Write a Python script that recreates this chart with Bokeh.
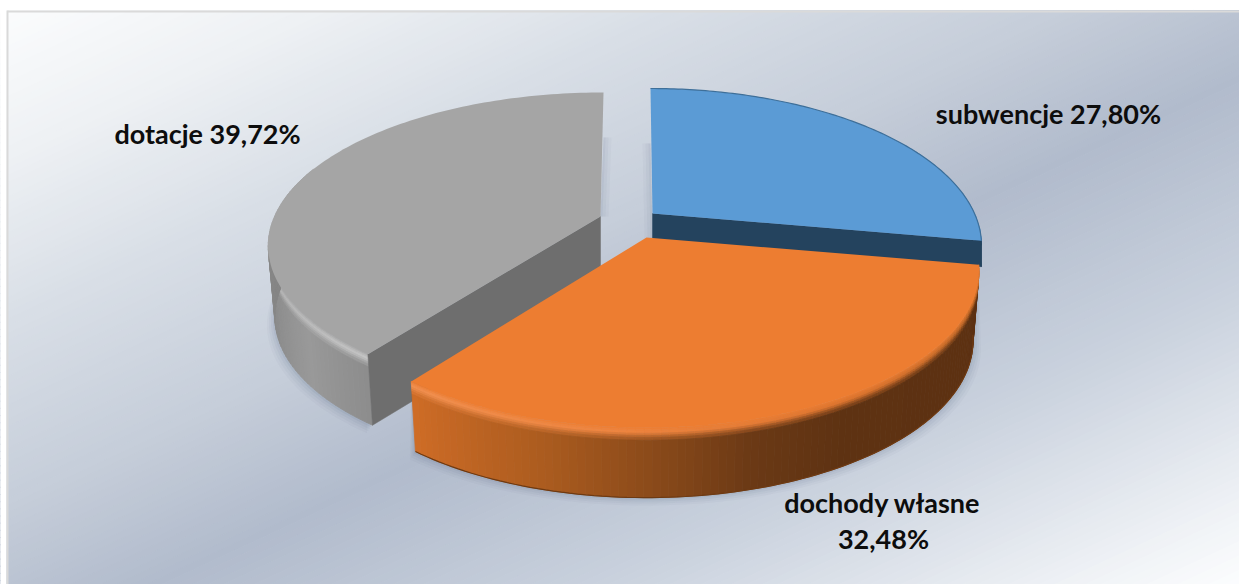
import numpy as np
from bokeh.plotting import figure
from bokeh.models import Range1d
from bokeh.core.properties import value
from bokeh.embed import file_html
from bokeh.resources import INLINE

# ---- chart data ----
categories = ["subwencje", "dochody własne", "dotacje"]
shares = [27.80, 32.48, 39.72]
label_lines = [["subwencje 27,80%"], ["dochody własne", "32,48%"], ["dotacje 39,72%"]]

# ---- styling / layout ----
W, H = 1239, 584
face_cols = ["#5B9BD5", "#ED7D31", "#A5A5A5"]
wall_cols = ["#24435E", "#7A3E12", "#6E6E6E"]
apex = [(652, 213), (646, 237), (600, 216)]
radius_x = [322, 325, 326]
radius_y = [150, 150, 147]
persp = [0.2, 0.211, 0.185]
lean = [-2, 0, 3]
depth = [26, 70, 71]
shrink = [1.0, 0.982, 0.98]
label_pos = [[(1048, 114)], [(882, 503), (883, 539)], [(207, 134)]]


def rgb(h):
    return np.array([int(h[i:i + 2], 16) for i in (1, 3, 5)], float)


def hexc(c):
    return "#%02x%02x%02x" % tuple(int(round(v)) for v in np.clip(c, 0, 255))


def ramp(a, angles, cols):
    m = np.array([rgb(c) for c in cols])
    return np.array([np.interp(a, angles, m[:, j]) for j in range(3)])


p = figure(width=W, height=H, output_backend="svg", toolbar_location=None,
           x_range=Range1d(0, W), y_range=Range1d(H, 0),
           min_border=0, outline_line_color=None)
p.axis.visible = False
p.grid.visible = False
p.background_fill_color = "white"

# ---- background: diagonal gradient built from bands ----
FX, FY = 7, 10
sx = [0, .25, .55, .85, 1.12, 1.5, 1.85, 2.0]
sc = ["#FBFCFD", "#EEF1F4", "#D8DEE6", "#C6CEDA", "#B1BBCC", "#CAD2DE", "#EEF1F5", "#FCFDFE"]
edges = np.linspace(0, 2, 161)
bw, bh = W - FX, H - FY
gx, gy, gc = [], [], []
for s0, s1 in zip(edges[:-1], edges[1:]):
    gx.append([FX + s0 * bw, FX + s1 * bw, FX + (s1 - 1) * bw, FX + (s0 - 1) * bw])
    gy.append([FY, FY, FY + bh, FY + bh])
    gc.append(hexc(ramp((s0 + s1) / 2, sx, sc)))
p.patches(gx, gy, fill_color=gc, line_color=gc, line_width=1)
p.quad(left=[0], right=[FX - 1], top=[0], bottom=[H], fill_color="white", line_color=None)
p.quad(left=[0], right=[W], top=[0], bottom=[FY - 1], fill_color="white", line_color=None)
p.line([FX, FX], [FY, H], line_color="#D9D9D9", line_width=2)
p.line([FX, W], [FY + 1, FY + 1], line_color="#DADADA", line_width=2)

# ---- slice geometry from the shares ----
cum = np.concatenate([[0], np.cumsum(shares)]) * 3.6


def edge(i, deg):
    t = np.radians(deg)
    X, Y = np.sin(t), np.cos(t)
    w = 1 + persp[i] * Y
    cx, cy = apex[i]
    return cx + radius_x[i] * X / w + lean[i] * Y, cy - radius_y[i] * Y / w


def lower(i, x, y):
    return apex[i][0] + (x - apex[i][0]) * shrink[i], y + depth[i]


rim_ramps = {
    0: ([0, 100], ["#2F5878", "#24435E"]),
    1: ([100, 150, 165, 180, 195, 217.1], ["#5C3011", "#5E3212", "#6B3915", "#8C4B1A", "#AC5C1F", "#CF6C26"]),
    2: ([217, 232, 245, 262, 290, 360], ["#8C8C8C", "#999999", "#8F8F8F", "#868686", "#808080", "#808080"]),
}
hi_ramps = {
    0: ([0, 100], ["#5B9BD5", "#5B9BD5"]),
    1: ([100, 150, 185, 217.1], ["#B56426", "#DD742D", "#EE8540", "#F18F4E"]),
    2: ([217, 235, 262, 290, 360], ["#C4C4C4", "#BABABA", "#ABABAB", "#9E9E9E", "#9E9E9E"]),
}
# bevel: (band start, band end, weight towards highlight, weight towards rim)
bands = [(0, .025, .3, 0), (.025, .05, .7, 0), (.05, .08, 1, 0), (.08, .11, .8, .2),
         (.11, .14, .5, .5), (.14, .18, .25, .75), (.18, 1.0, 0, 1)]


def draw_slice(i, a0, a1, n):
    th = np.linspace(a0, a1, n)
    x, y = edge(i, th)
    bx, by = lower(i, x, y)
    face = rgb(face_cols[i])
    xs, ys, cols = [], [], []
    for k in range(len(th) - 1):
        mid = (th[k] + th[k + 1]) / 2
        rimc = ramp(mid, *rim_ramps[i])
        hic = ramp(mid, *hi_ramps[i])
        for t0, t1, wh, wr in bands:
            c = wh * hic + wr * rimc + (1 - wh - wr) * face
            xs.append([x[k] + (bx[k] - x[k]) * t0, x[k + 1] + (bx[k + 1] - x[k + 1]) * t0,
                       x[k + 1] + (bx[k + 1] - x[k + 1]) * t1, x[k] + (bx[k] - x[k]) * t1])
            ys.append([y[k] + (by[k] - y[k]) * t0, y[k + 1] + (by[k + 1] - y[k + 1]) * t0,
                       y[k + 1] + (by[k + 1] - y[k + 1]) * t1, y[k] + (by[k] - y[k]) * t1])
            cols.append(hexc(c))
    p.patches(xs, ys, fill_color=cols, line_color=cols, line_width=0.8)
    return x, y, bx, by


def shadow(i, th_lo, th_hi):
    th = np.linspace(th_lo, th_hi, 60)
    x, y = edge(i, th)
    bx, by = lower(i, x, y)
    for e, al in [(8, .03), (6, .04), (4, .05), (2, .07)]:
        sxv = apex[i][0] + (bx - apex[i][0]) * (1 + e / 330)
        syv = by + e
        p.patch(np.concatenate([x, sxv[::-1]]), np.concatenate([y, syv[::-1]]),
                fill_color="#3F4E6E", fill_alpha=al, line_color=None)


def draw_wall(i, deg):
    ex, ey = edge(i, deg)
    cx, cy = apex[i]
    bx, by = lower(i, ex, ey)
    p.patch([cx, ex, bx, cx], [cy, ey, by, cy + depth[i]],
            fill_color=wall_cols[i], line_color=wall_cols[i], line_width=0.5)


def draw_face(i, a0, a1):
    th = np.linspace(a0, a1, 120)
    x, y = edge(i, th)
    cx, cy = apex[i]
    p.patch(np.concatenate([[cx], x]), np.concatenate([[cy], y]),
            fill_color=face_cols[i], line_color=None)
    return x, y


# soft shade beside the inner vertical edges
for e, al in [(8, .03), (5, .04), (2, .05)]:
    tx, ty = edge(2, cum[3])
    ax, ay = apex[2]
    p.patch([tx, tx + e, ax + e, ax], [ty + 45, ty + 45, ay, ay], fill_color="#3F4E6E", fill_alpha=al, line_color=None)
    tx, ty = edge(0, 0)
    ax, ay = apex[0]
    p.patch([tx, tx - e, ax - e, ax], [ty + 55, ty + 55, ay + 25, ay + 25], fill_color="#3F4E6E", fill_alpha=al, line_color=None)

# grey (back-left)
shadow(2, cum[2], 285)
draw_slice(2, cum[2], 290, 60)
draw_wall(2, cum[2])
draw_face(2, cum[2], cum[3])

# blue (back-right)
draw_slice(0, 60, cum[1], 10)
draw_wall(0, cum[1])
x, y = draw_face(0, cum[0], cum[1])
p.line(x, y, line_color="#3E6F99", line_width=1.2)

# orange (front)
shadow(1, cum[1], cum[2])
x, y, bx, by = draw_slice(1, cum[1], cum[2], 100)
draw_face(1, cum[1], cum[2])
p.line(bx, by, line_color="#6E3A12", line_width=1.2)

# ---- labels ----
for lines, pos in zip(label_lines, label_pos):
    for txt, (lx, ly) in zip(lines, pos):
        p.text([lx], [ly - 1], text=[txt], text_align="center", text_baseline="middle",
               text_font=value("Lato"), text_font_style="bold", text_font_size="27px",
               text_color="#0D0D0D")

open("out.html", "w").write(file_html(p, INLINE))
